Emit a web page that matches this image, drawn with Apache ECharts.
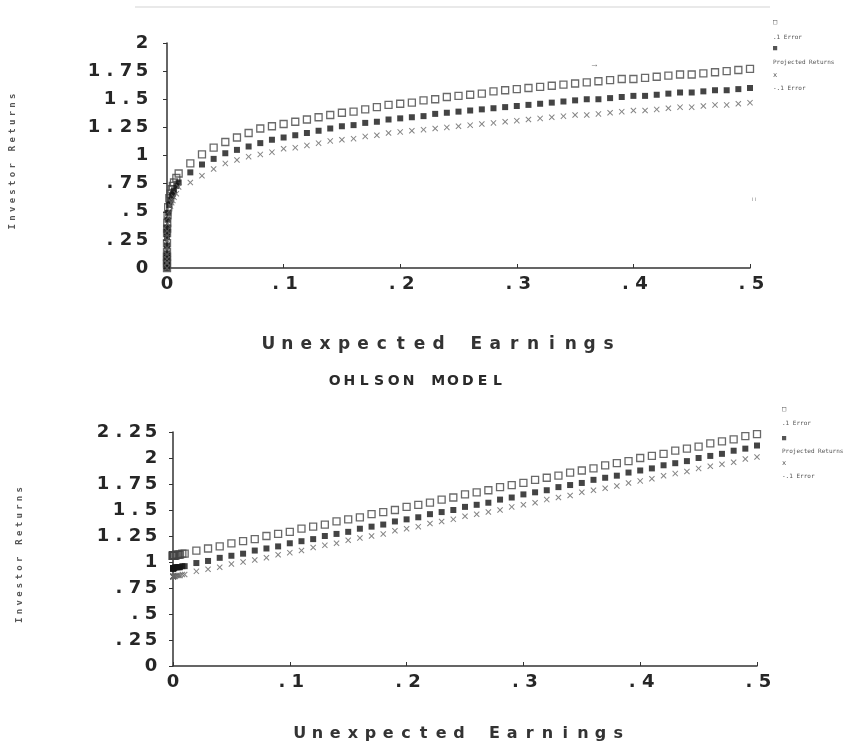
<!DOCTYPE html>
<html><head><meta charset="utf-8">
<script src="https://cdn.jsdelivr.net/npm/echarts@6/dist/echarts.min.js"></script>
<style>html,body{margin:0;padding:0;background:#fff}#c{width:865px;height:747px}</style>
</head><body><div id="c"></div>
<script>
// Unexpected earnings (x) values, shared by both panels
const earnings = [0, 0.000000001, 0.00000001, 0.0000001, 0.000001, 0.00001, 0.00005, 0.0001, 0.0002, 0.0005, 0.001, 0.002, 0.003, 0.004, 0.005, 0.006, 0.008,
  0.01,0.02,0.03,0.04,0.05,0.06,0.07,0.08,0.09,0.10,
  0.11,0.12,0.13,0.14,0.15,0.16,0.17,0.18,0.19,0.20,
  0.21,0.22,0.23,0.24,0.25,0.26,0.27,0.28,0.29,0.30,
  0.31,0.32,0.33,0.34,0.35,0.36,0.37,0.38,0.39,0.40,
  0.41,0.42,0.43,0.44,0.45,0.46,0.47,0.48,0.49,0.50];

// Top panel
const topUpper = [0, 0.04, 0.07, 0.10, 0.14, 0.22, 0.31, 0.35, 0.40, 0.47, 0.54, 0.62, 0.66, 0.70, 0.73, 0.76, 0.80,
  0.84,0.93,1.01,1.07,1.12,1.16,1.20,1.24,1.26,1.28,
  1.30,1.32,1.34,1.36,1.38,1.39,1.41,1.43,1.45,1.46,
  1.47,1.49,1.50,1.52,1.53,1.54,1.55,1.57,1.58,1.59,
  1.60,1.61,1.62,1.63,1.64,1.65,1.66,1.67,1.68,1.68,
  1.69,1.70,1.71,1.72,1.72,1.73,1.74,1.75,1.76,1.77];
const topProjected = [0, 0.04, 0.06, 0.09, 0.13, 0.20, 0.28, 0.32, 0.36, 0.43, 0.49, 0.56, 0.60, 0.64, 0.66, 0.69, 0.73,
  0.76,0.85,0.92,0.97,1.02,1.05,1.08,1.11,1.14,1.16,
  1.18,1.20,1.22,1.24,1.26,1.27,1.29,1.30,1.32,1.33,
  1.34,1.35,1.37,1.38,1.39,1.40,1.41,1.42,1.43,1.44,
  1.45,1.46,1.47,1.48,1.49,1.50,1.50,1.51,1.52,1.53,
  1.53,1.54,1.55,1.56,1.56,1.57,1.58,1.58,1.59,1.60];
const topLower = [0, 0.04, 0.05, 0.08, 0.12, 0.18, 0.25, 0.29, 0.33, 0.39, 0.45, 0.51, 0.55, 0.58, 0.60, 0.63, 0.66,
  0.72,0.76,0.82,0.88,0.93,0.96,0.99,1.01,1.03,1.06,
  1.07,1.09,1.11,1.13,1.14,1.15,1.17,1.18,1.20,1.21,
  1.22,1.23,1.24,1.25,1.26,1.27,1.28,1.29,1.30,1.31,
  1.32,1.33,1.34,1.35,1.36,1.36,1.37,1.38,1.39,1.40,
  1.40,1.41,1.42,1.43,1.43,1.44,1.45,1.45,1.46,1.47];

// Bottom panel (OHLSON MODEL)
const ohlUpper = [1.06,1.06,1.06,1.06,1.06,1.06,1.06,1.06,1.06,1.06,1.06,1.06,1.07,1.07,1.07,1.07,1.08,
  1.08,1.11,1.13,1.15,1.18,1.20,1.22,1.25,1.27,1.29,
  1.32,1.34,1.36,1.39,1.41,1.43,1.46,1.48,1.50,1.53,
  1.55,1.57,1.60,1.62,1.65,1.67,1.69,1.72,1.74,1.76,
  1.79,1.81,1.83,1.86,1.88,1.90,1.93,1.95,1.97,2.00,
  2.02,2.04,2.07,2.09,2.11,2.14,2.16,2.18,2.21,2.23];
const ohlProjected = [0.94,0.94,0.94,0.94,0.94,0.94,0.94,0.94,0.94,0.94,0.94,0.95,0.95,0.95,0.95,0.95,0.96,
  0.96,0.99,1.01,1.04,1.06,1.08,1.11,1.13,1.15,1.18,
  1.20,1.22,1.25,1.27,1.29,1.32,1.34,1.36,1.39,1.41,
  1.43,1.46,1.48,1.50,1.53,1.55,1.57,1.60,1.62,1.65,
  1.67,1.69,1.72,1.74,1.76,1.79,1.81,1.83,1.86,1.88,
  1.90,1.93,1.95,1.97,2.00,2.02,2.04,2.07,2.09,2.12];
const ohlLower = [0.86,0.86,0.86,0.86,0.86,0.86,0.86,0.86,0.86,0.86,0.86,0.86,0.87,0.87,0.87,0.87,0.88,
  0.88,0.91,0.93,0.95,0.98,1.00,1.02,1.04,1.07,1.09,
  1.11,1.14,1.16,1.18,1.21,1.23,1.25,1.27,1.30,1.32,
  1.34,1.37,1.39,1.41,1.44,1.46,1.48,1.50,1.53,1.55,
  1.57,1.60,1.62,1.64,1.67,1.69,1.71,1.73,1.76,1.78,
  1.80,1.83,1.85,1.87,1.90,1.92,1.94,1.96,1.99,2.01];

// Tick labels
const xTickLabels = ['0', '.1', '.2', '.3', '.4', '.5'];
const topYTickLabels = ['0', '.25', '.5', '.75', '1', '1.25', '1.5', '1.75', '2'];
const ohlYTickLabels = ['0', '.25', '.5', '.75', '1', '1.25', '1.5', '1.75', '2', '2.25'];

// Texts
const xTitle = 'Unexpected Earnings';
const yTitle = 'Investor Returns';
const modelTitle = 'OHLSON MODEL';
const legendTexts = ['\u25A1', '.1 Error', '\u25A0', 'Projected Returns', 'x', '-.1 Error'];

function cells(str, key) {
  return str.split('').map(ch => '{' + key + '|' + ch + '}').join('');
}
function zip(xs, ys) { return xs.map((x, i) => [x, ys[i]]); }

const MONO = '"DejaVu Sans Mono", "Liberation Mono", monospace';
const WIDE = '"DejaVu Sans", Verdana, sans-serif';
const richAll = {
  t: { width: 16, align: 'center', fontFamily: WIDE, fontWeight: 'bold', fontSize: 18, color: '#262626' },
  n: { width: 18.9, align: 'center', fontFamily: WIDE, fontWeight: 'bold', fontSize: 17, color: '#333' },
  m: { width: 17.7, align: 'center', fontFamily: WIDE, fontWeight: 'bold', fontSize: 16, color: '#333' },
  y: { width: 8.7, align: 'center', fontFamily: MONO, fontSize: 9, fontWeight: 'bold', color: '#555' },
  h: { width: 14.8, align: 'center', fontFamily: WIDE, fontSize: 14, color: '#2a2a2a' }
};

const crossPath = 'path://M0,1.2 L1.2,0 L5,3.8 L8.8,0 L10,1.2 L6.2,5 L10,8.8 L8.8,10 L5,6.2 L1.2,10 L0,8.8 L3.8,5 Z';

function xAxisDef(gi, nameKey, nameOffset, nameGap) {
  return {
    gridIndex: gi, type: 'value', min: 0, max: 0.5, interval: 0.1,
    axisLine: { lineStyle: { color: '#333', width: 1.5 } },
    axisTick: { inside: true, length: 4, lineStyle: { color: '#333' } },
    splitLine: { show: false },
    axisLabel: { margin: 7, rich: richAll, formatter: v => cells(xTickLabels[Math.round(v * 10)], 't') },
    name: cells(xTitle, nameKey), nameLocation: 'middle', nameGap: nameGap,
    nameTextStyle: { rich: richAll, padding: nameOffset }
  };
}
function yAxisDef(gi, labels, max, margin, nameGap) {
  return {
    gridIndex: gi, type: 'value', min: 0, max: max, interval: 0.25,
    axisLine: { show: true, lineStyle: { color: '#333', width: 1.5 } },
    axisTick: { show: true, length: 4, lineStyle: { color: '#333' } },
    splitLine: { show: false },
    axisLabel: { margin: margin, rich: richAll, formatter: v => cells(labels[Math.round(v * 4)], 't') },
    name: cells(yTitle, 'y'), nameLocation: 'middle', nameRotate: 90, nameGap: nameGap,
    nameTextStyle: { rich: richAll, padding: [0, 12, 0, 0] }
  };
}

function seriesSet(gi, up, mid, low) {
  return [
    { type: 'scatter', name: '.1 Error', xAxisIndex: gi, yAxisIndex: gi, symbol: 'rect', symbolSize: 7,
      itemStyle: { color: 'rgba(255,255,255,0)', borderColor: '#444', borderWidth: 1.3 }, data: zip(earnings, up) },
    { type: 'scatter', name: 'Projected Returns', xAxisIndex: gi, yAxisIndex: gi, symbol: 'rect', symbolSize: 6,
      itemStyle: { color: '#151515' }, data: zip(earnings, mid) },
    { type: 'scatter', name: '-.1 Error', xAxisIndex: gi, yAxisIndex: gi, symbol: crossPath, symbolSize: 6,
      itemStyle: { color: '#666' }, data: zip(earnings, low) }
  ];
}

function legendGraphics(cx, ys) {
  return legendTexts.map((t, i) => ({
    type: 'text', left: cx - 40, top: ys[i] - 4,
    style: { text: t, x: 40, textAlign: 'center', fontFamily: MONO, fontSize: (i % 2 === 0) ? 7 : 6, fill: '#555', width: 80 }
  }));
}

const chart = echarts.init(document.getElementById('c'), null, { renderer: 'canvas' });
chart.setOption({
  animation: false,
  backgroundColor: '#ffffff',
  title: [{
    text: cells(modelTitle, 'h'), left: 411, top: 369, textAlign: 'center',
    textStyle: { rich: richAll }
  }],
  grid: [
    { left: 165, top: 43, width: 585, height: 225 },
    { left: 173, top: 432, width: 584, height: 234 }
  ],
  xAxis: [xAxisDef(0, 'n', [0, 40, 0, 0], 68), xAxisDef(1, 'm', [0, 12, 0, 0], 60)],
  yAxis: [yAxisDef(0, topYTickLabels, 2, 17, 150), yAxisDef(1, ohlYTickLabels, 2.25, 14, 149)],
  series: [].concat(seriesSet(0, topUpper, topProjected, topLower), seriesSet(1, ohlUpper, ohlProjected, ohlLower)),
  graphic: [].concat(
    [{ type: 'line', shape: { x1: 135, y1: 7, x2: 770, y2: 7 }, style: { stroke: '#e2e2e2', lineWidth: 1.5 } },
     { type: 'text', left: 590, top: 60, style: { text: '\u2192', fontSize: 9, fill: '#777' } },
     { type: 'text', left: 752, top: 196, style: { text: 'i i', fontSize: 6, fill: '#888' } }],
    legendGraphics(813, [23, 38, 49, 63, 76, 89]),
    legendGraphics(822, [410, 424, 439, 452, 464, 477])
  )
});
</script></body></html>
